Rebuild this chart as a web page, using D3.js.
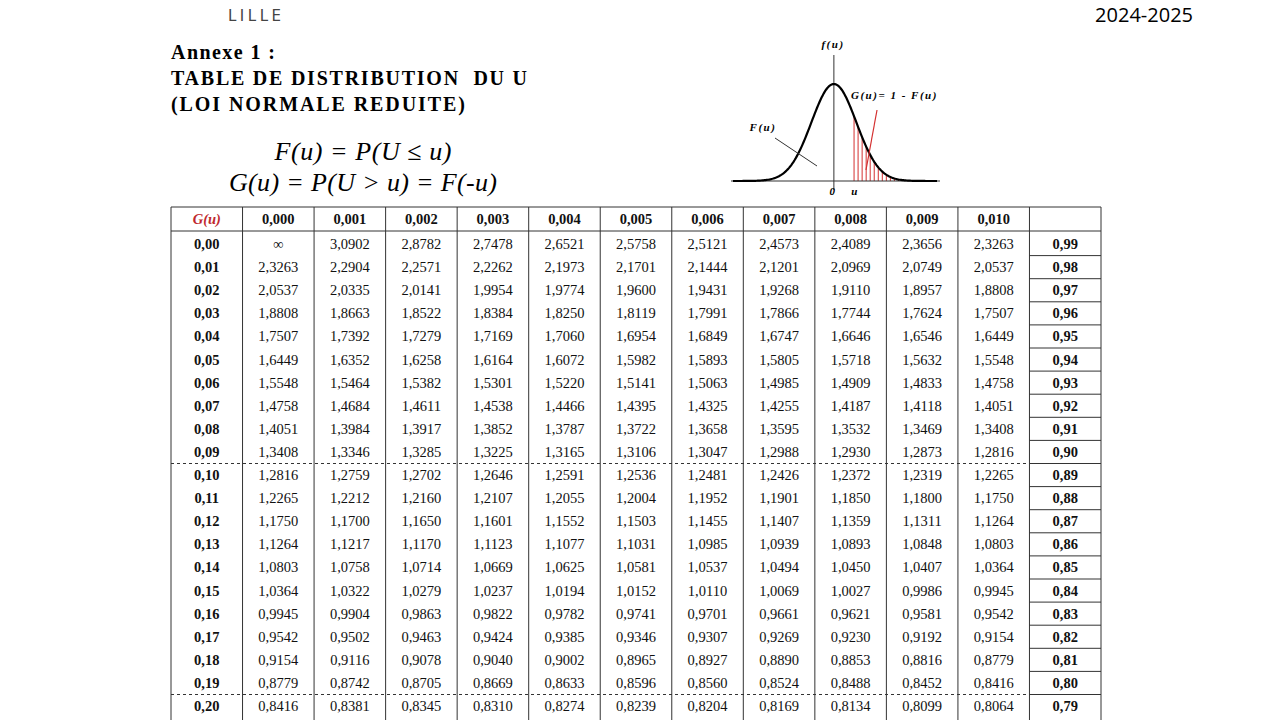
<!DOCTYPE html>
<html><head><meta charset="utf-8">
<script src="https://cdn.jsdelivr.net/npm/d3@7"></script>
<style>body{margin:0;background:#fff}svg{display:block}</style>
</head><body>
<svg id="c" width="1280" height="720"></svg>
<script>
const colHeaders=["0,000","0,001","0,002","0,003","0,004","0,005","0,006","0,007","0,008","0,009","0,010"];
const rowLabels=["0,00","0,01","0,02","0,03","0,04","0,05","0,06","0,07","0,08","0,09","0,10","0,11","0,12","0,13","0,14","0,15","0,16","0,17","0,18","0,19","0,20"];
const rightLabels=["0,99","0,98","0,97","0,96","0,95","0,94","0,93","0,92","0,91","0,90","0,89","0,88","0,87","0,86","0,85","0,84","0,83","0,82","0,81","0,80","0,79"];
const values=[
["∞","3,0902","2,8782","2,7478","2,6521","2,5758","2,5121","2,4573","2,4089","2,3656","2,3263"],
["2,3263","2,2904","2,2571","2,2262","2,1973","2,1701","2,1444","2,1201","2,0969","2,0749","2,0537"],
["2,0537","2,0335","2,0141","1,9954","1,9774","1,9600","1,9431","1,9268","1,9110","1,8957","1,8808"],
["1,8808","1,8663","1,8522","1,8384","1,8250","1,8119","1,7991","1,7866","1,7744","1,7624","1,7507"],
["1,7507","1,7392","1,7279","1,7169","1,7060","1,6954","1,6849","1,6747","1,6646","1,6546","1,6449"],
["1,6449","1,6352","1,6258","1,6164","1,6072","1,5982","1,5893","1,5805","1,5718","1,5632","1,5548"],
["1,5548","1,5464","1,5382","1,5301","1,5220","1,5141","1,5063","1,4985","1,4909","1,4833","1,4758"],
["1,4758","1,4684","1,4611","1,4538","1,4466","1,4395","1,4325","1,4255","1,4187","1,4118","1,4051"],
["1,4051","1,3984","1,3917","1,3852","1,3787","1,3722","1,3658","1,3595","1,3532","1,3469","1,3408"],
["1,3408","1,3346","1,3285","1,3225","1,3165","1,3106","1,3047","1,2988","1,2930","1,2873","1,2816"],
["1,2816","1,2759","1,2702","1,2646","1,2591","1,2536","1,2481","1,2426","1,2372","1,2319","1,2265"],
["1,2265","1,2212","1,2160","1,2107","1,2055","1,2004","1,1952","1,1901","1,1850","1,1800","1,1750"],
["1,1750","1,1700","1,1650","1,1601","1,1552","1,1503","1,1455","1,1407","1,1359","1,1311","1,1264"],
["1,1264","1,1217","1,1170","1,1123","1,1077","1,1031","1,0985","1,0939","1,0893","1,0848","1,0803"],
["1,0803","1,0758","1,0714","1,0669","1,0625","1,0581","1,0537","1,0494","1,0450","1,0407","1,0364"],
["1,0364","1,0322","1,0279","1,0237","1,0194","1,0152","1,0110","1,0069","1,0027","0,9986","0,9945"],
["0,9945","0,9904","0,9863","0,9822","0,9782","0,9741","0,9701","0,9661","0,9621","0,9581","0,9542"],
["0,9542","0,9502","0,9463","0,9424","0,9385","0,9346","0,9307","0,9269","0,9230","0,9192","0,9154"],
["0,9154","0,9116","0,9078","0,9040","0,9002","0,8965","0,8927","0,8890","0,8853","0,8816","0,8779"],
["0,8779","0,8742","0,8705","0,8669","0,8633","0,8596","0,8560","0,8524","0,8488","0,8452","0,8416"],
["0,8416","0,8381","0,8345","0,8310","0,8274","0,8239","0,8204","0,8169","0,8134","0,8099","0,8064"]];

const svg=d3.select("#c");
const serif="'Liberation Serif','DejaVu Serif',serif";
svg.append("text").attr("x",228).attr("y",21).attr("font-family","'DejaVu Sans',sans-serif").attr("font-size",15).attr("letter-spacing",3.5).attr("fill","#444").text("LILLE");
svg.append("text").attr("x",1193).attr("y",22).attr("text-anchor","end").attr("font-family","'Open Sans',sans-serif").attr("font-size",20).text("2024-2025");
const titles=[["Annexe 1 :",104],["TABLE DE DISTRIBUTION  DU U",356],["(LOI NORMALE REDUITE)",294]];
titles.forEach(([tx,w],i)=>
 svg.append("text").attr("x",171).attr("y",59+i*26).attr("font-family",serif).attr("font-weight","bold").attr("font-size",20).attr("textLength",w).attr("lengthAdjust","spacing").attr("xml:space","preserve").text(tx));
svg.append("text").attr("x",363).attr("y",160).attr("text-anchor","middle").attr("font-family",serif).attr("font-style","italic").attr("font-size",26).attr("textLength",177).text("F(u) = P(U ≤ u)");
svg.append("text").attr("x",363).attr("y",191).attr("text-anchor","middle").attr("font-family",serif).attr("font-style","italic").attr("font-size",26).attr("textLength",268).text("G(u) = P(U > u) = F(-u)");

const cx=d3.scaleLinear().domain([-4.5,4.6]).range([733,937]);
const cy=d3.scaleLinear().domain([0,0.3989]).range([181,84]);
const pdf=z=>Math.exp(-z*z/2)/Math.sqrt(2*Math.PI);
const zs=d3.range(-4.5,4.601,0.05);
const g=svg.append("g");
const uVal=0.9;
d3.range(uVal,4.5,0.18).forEach(z=>g.append("line").attr("x1",cx(z)).attr("x2",cx(z)).attr("y1",cy(0)).attr("y2",cy(pdf(z))).attr("stroke","#d43030").attr("stroke-width",1));
g.append("line").attr("x1",731).attr("x2",940).attr("y1",cy(0)).attr("y2",cy(0)).attr("stroke","#333").attr("stroke-width",1.2);
g.append("line").attr("x1",cx(0)).attr("x2",cx(0)).attr("y1",55).attr("y2",190).attr("stroke","#333").attr("stroke-width",1);
g.append("path").attr("d",d3.line().x(z=>cx(z)).y(z=>cy(pdf(z)))(zs)).attr("fill","none").attr("stroke","#000").attr("stroke-width",2.2);
g.append("line").attr("x1",775).attr("y1",138).attr("x2",817).attr("y2",166).attr("stroke","#333");
g.append("line").attr("x1",877).attr("y1",110).attr("x2",866).attr("y2",170).attr("stroke","#d43030").attr("stroke-width",1.2);
const it=(x,y,t,a)=>g.append("text").attr("x",x).attr("y",y).attr("text-anchor",a||"middle").attr("font-family",serif).attr("font-style","italic").attr("font-weight","bold").attr("font-size",11).attr("letter-spacing",1.5).text(t);
it(833,48,"f(u)");it(763,131,"F(u)");it(851,99,"G(u)= 1 - F(u)","start");
it(833,195,"0");it(855,195,"u");

const nCols=13;
const x=d3.scaleLinear().domain([0,nCols]).range([171,1101]);
const headTop=207, headBot=231;
const y=d3.scaleLinear().domain([0,1]).range([232.5,255.6]);
const t=svg.append("g").attr("font-family",serif).attr("font-size",14.5);
const ln=(x1,y1,x2,y2,dash)=>t.append("line").attr("x1",x1).attr("y1",y1).attr("x2",x2).attr("y2",y2).attr("stroke","#333").attr("stroke-width",1).attr("stroke-dasharray",dash||null);
const bottom=y(rowLabels.length);
ln(x(0),headTop,x(nCols),headTop);
ln(x(0),headBot,x(nCols),headBot);
for(let c=0;c<=nCols;c++) ln(x(c),headTop,x(c),bottom+5);
rowLabels.forEach((r,i)=>{ if(i>0) ln(x(12),y(i),x(13),y(i)); });
[10,20].forEach(i=>ln(x(0),y(i),x(12),y(i),"3,3"));
const cell=(c,yy,txt,opt={})=>t.append("text").attr("x",(x(c)+x(c+1))/2).attr("y",yy).attr("text-anchor","middle")
  .attr("font-weight",opt.b?"bold":null).attr("font-style",opt.i?"italic":null).attr("fill",opt.fill||"#111").text(txt);
cell(0,(headTop+headBot)/2+5,"G(u)",{b:1,i:1,fill:"#c0282d"});
colHeaders.forEach((h,j)=>cell(j+1,(headTop+headBot)/2+5,h,{b:1}));
rowLabels.forEach((r,i)=>{
  const yy=(y(i)+y(i+1))/2+5;
  cell(0,yy,r,{b:1});
  values[i].forEach((v,j)=>cell(j+1,yy,v));
  cell(12,yy,rightLabels[i],{b:1});
});
</script></body></html>
